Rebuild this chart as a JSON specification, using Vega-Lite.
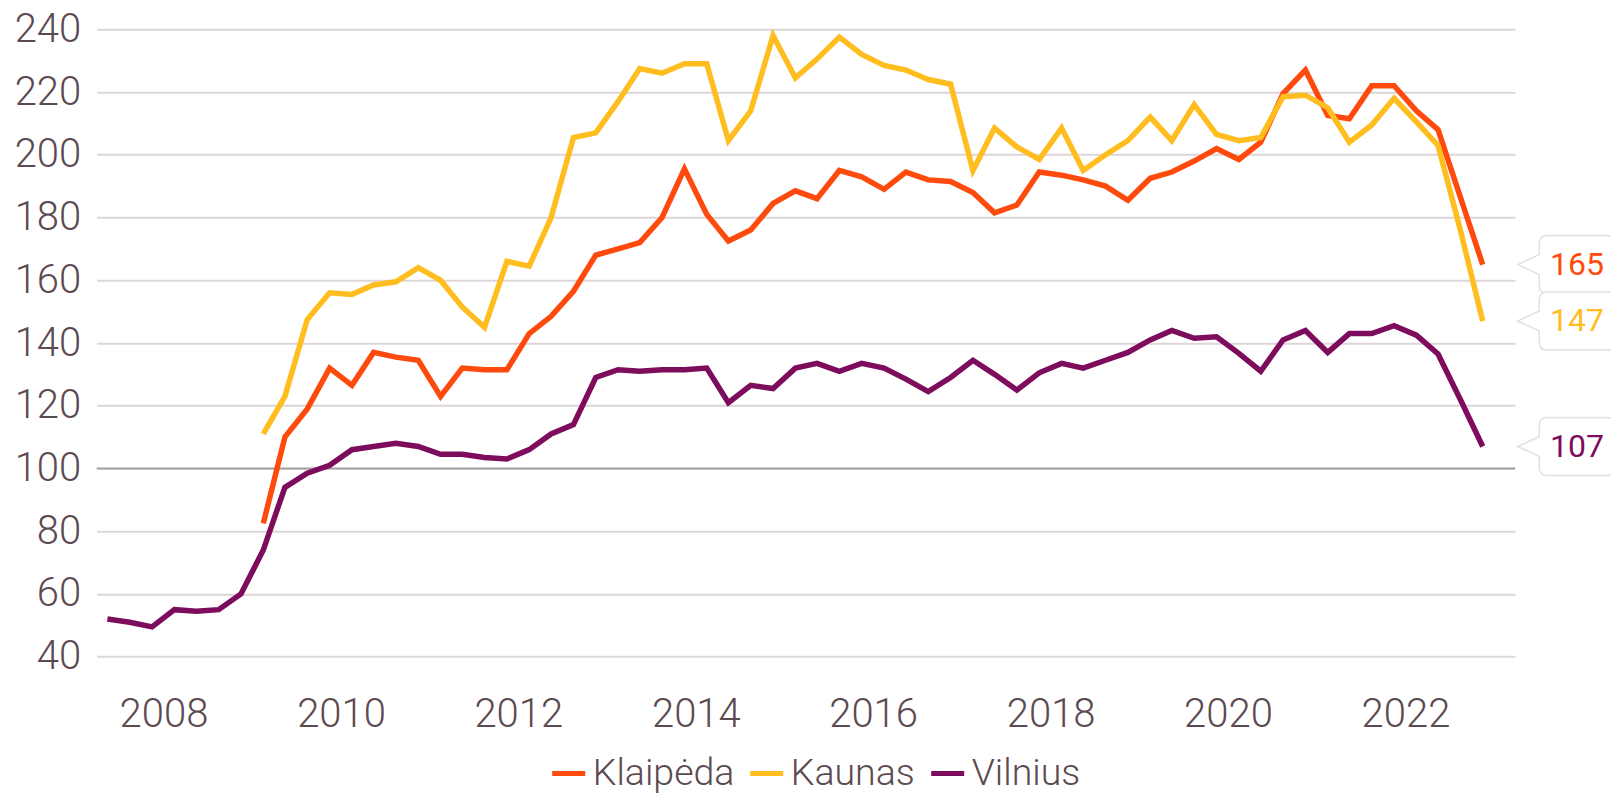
{
  "$schema": "https://vega.github.io/schema/vega-lite/v6.json",
  "width": 1418.3,
  "height": 627.4,
  "autosize": {"type": "none"},
  "padding": {"left": 96.7, "top": 29.3, "right": 96, "bottom": 136.3},
  "background": "white",
  "config": {"view": {"stroke": null}, "font": "Roboto"},
  "datasets": {
    "series": [
      {"date": "2007-05-15", "Klaipėda": null, "Kaunas": null, "Vilnius": 52},
      {"date": "2007-08-15", "Klaipėda": null, "Kaunas": null, "Vilnius": 51},
      {"date": "2007-11-15", "Klaipėda": null, "Kaunas": null, "Vilnius": 49.5},
      {"date": "2008-02-15", "Klaipėda": null, "Kaunas": null, "Vilnius": 55},
      {"date": "2008-05-15", "Klaipėda": null, "Kaunas": null, "Vilnius": 54.5},
      {"date": "2008-08-15", "Klaipėda": null, "Kaunas": null, "Vilnius": 55},
      {"date": "2008-11-15", "Klaipėda": null, "Kaunas": null, "Vilnius": 60},
      {"date": "2009-02-15", "Klaipėda": 82.5, "Kaunas": 111, "Vilnius": 74},
      {"date": "2009-05-15", "Klaipėda": 110, "Kaunas": 123, "Vilnius": 94},
      {"date": "2009-08-15", "Klaipėda": 119, "Kaunas": 147.5, "Vilnius": 98.5},
      {"date": "2009-11-15", "Klaipėda": 132, "Kaunas": 156, "Vilnius": 101},
      {"date": "2010-02-15", "Klaipėda": 126.5, "Kaunas": 155.5, "Vilnius": 106},
      {"date": "2010-05-15", "Klaipėda": 137, "Kaunas": 158.5, "Vilnius": 107},
      {"date": "2010-08-15", "Klaipėda": 135.5, "Kaunas": 159.5, "Vilnius": 108},
      {"date": "2010-11-15", "Klaipėda": 134.5, "Kaunas": 164, "Vilnius": 107},
      {"date": "2011-02-15", "Klaipėda": 123, "Kaunas": 160, "Vilnius": 104.5},
      {"date": "2011-05-15", "Klaipėda": 132, "Kaunas": 151.5, "Vilnius": 104.5},
      {"date": "2011-08-15", "Klaipėda": 131.5, "Kaunas": 145, "Vilnius": 103.5},
      {"date": "2011-11-15", "Klaipėda": 131.5, "Kaunas": 166, "Vilnius": 103},
      {"date": "2012-02-15", "Klaipėda": 143, "Kaunas": 164.5, "Vilnius": 106},
      {"date": "2012-05-15", "Klaipėda": 148.5, "Kaunas": 180, "Vilnius": 111},
      {"date": "2012-08-15", "Klaipėda": 156.5, "Kaunas": 205.5, "Vilnius": 114},
      {"date": "2012-11-15", "Klaipėda": 168, "Kaunas": 207, "Vilnius": 129},
      {"date": "2013-02-15", "Klaipėda": 170, "Kaunas": 217, "Vilnius": 131.5},
      {"date": "2013-05-15", "Klaipėda": 172, "Kaunas": 227.5, "Vilnius": 131},
      {"date": "2013-08-15", "Klaipėda": 180, "Kaunas": 226, "Vilnius": 131.5},
      {"date": "2013-11-15", "Klaipėda": 195.5, "Kaunas": 229, "Vilnius": 131.5},
      {"date": "2014-02-15", "Klaipėda": 181, "Kaunas": 229, "Vilnius": 132},
      {"date": "2014-05-15", "Klaipėda": 172.5, "Kaunas": 204.5, "Vilnius": 121},
      {"date": "2014-08-15", "Klaipėda": 176, "Kaunas": 214, "Vilnius": 126.5},
      {"date": "2014-11-15", "Klaipėda": 184.5, "Kaunas": 238, "Vilnius": 125.5},
      {"date": "2015-02-15", "Klaipėda": 188.5, "Kaunas": 224.5, "Vilnius": 132},
      {"date": "2015-05-15", "Klaipėda": 186, "Kaunas": 230.5, "Vilnius": 133.5},
      {"date": "2015-08-15", "Klaipėda": 195, "Kaunas": 237.5, "Vilnius": 131},
      {"date": "2015-11-15", "Klaipėda": 193, "Kaunas": 232, "Vilnius": 133.5},
      {"date": "2016-02-15", "Klaipėda": 189, "Kaunas": 228.5, "Vilnius": 132},
      {"date": "2016-05-15", "Klaipėda": 194.5, "Kaunas": 227, "Vilnius": 128.5},
      {"date": "2016-08-15", "Klaipėda": 192, "Kaunas": 224, "Vilnius": 124.5},
      {"date": "2016-11-15", "Klaipėda": 191.5, "Kaunas": 222.5, "Vilnius": 129},
      {"date": "2017-02-15", "Klaipėda": 188, "Kaunas": 195, "Vilnius": 134.5},
      {"date": "2017-05-15", "Klaipėda": 181.5, "Kaunas": 208.5, "Vilnius": 130},
      {"date": "2017-08-15", "Klaipėda": 184, "Kaunas": 202.5, "Vilnius": 125},
      {"date": "2017-11-15", "Klaipėda": 194.5, "Kaunas": 198.5, "Vilnius": 130.5},
      {"date": "2018-02-15", "Klaipėda": 193.5, "Kaunas": 208.5, "Vilnius": 133.5},
      {"date": "2018-05-15", "Klaipėda": 192, "Kaunas": 195, "Vilnius": 132},
      {"date": "2018-08-15", "Klaipėda": 190, "Kaunas": 200, "Vilnius": 134.5},
      {"date": "2018-11-15", "Klaipėda": 185.5, "Kaunas": 204.5, "Vilnius": 137},
      {"date": "2019-02-15", "Klaipėda": 192.5, "Kaunas": 212, "Vilnius": 141},
      {"date": "2019-05-15", "Klaipėda": 194.5, "Kaunas": 204.5, "Vilnius": 144},
      {"date": "2019-08-15", "Klaipėda": 198, "Kaunas": 216, "Vilnius": 141.5},
      {"date": "2019-11-15", "Klaipėda": 202, "Kaunas": 206.5, "Vilnius": 142},
      {"date": "2020-02-15", "Klaipėda": 198.5, "Kaunas": 204.5, "Vilnius": 136.7},
      {"date": "2020-05-15", "Klaipėda": 204, "Kaunas": 205.5, "Vilnius": 131},
      {"date": "2020-08-15", "Klaipėda": 219.5, "Kaunas": 218.5, "Vilnius": 141},
      {"date": "2020-11-15", "Klaipėda": 227, "Kaunas": 219, "Vilnius": 144},
      {"date": "2021-02-15", "Klaipėda": 212.5, "Kaunas": 215, "Vilnius": 137},
      {"date": "2021-05-15", "Klaipėda": 211.5, "Kaunas": 204, "Vilnius": 143},
      {"date": "2021-08-15", "Klaipėda": 222, "Kaunas": 209.5, "Vilnius": 143},
      {"date": "2021-11-15", "Klaipėda": 222, "Kaunas": 218, "Vilnius": 145.5},
      {"date": "2022-02-15", "Klaipėda": 214, "Kaunas": 210.5, "Vilnius": 142.5},
      {"date": "2022-05-15", "Klaipėda": 208, "Kaunas": 203, "Vilnius": 136.5},
      {"date": "2022-08-15", "Klaipėda": 186.5, "Kaunas": 176, "Vilnius": 122},
      {"date": "2022-11-15", "Klaipėda": 165, "Kaunas": 147, "Vilnius": 107}
    ],
    "last": [
      {"date": "2022-11-15", "city": "Klaipėda", "v": 165},
      {"date": "2022-11-15", "city": "Kaunas", "v": 147},
      {"date": "2022-11-15", "city": "Vilnius", "v": 107}
    ],
    "ref": [{"v": 100}]
  },
  "layer": [
    {
      "data": {"name": "ref"},
      "mark": {"type": "rule", "color": "#a7a1a3", "strokeWidth": 2},
      "encoding": {"y": {"field": "v", "type": "quantitative"}}
    },
    {
      "data": {"name": "series"},
      "transform": [{"fold": ["Klaipėda", "Kaunas", "Vilnius"], "as": ["city", "v"]}],
      "mark": {"type": "line", "strokeWidth": 5.5},
      "encoding": {
        "x": {
          "field": "date", "type": "temporal",
          "scale": {"type": "utc", "domain": [{"year": 2007, "month": 4, "date": 1, "utc": true}, {"year": 2023, "month": 3, "date": 28, "utc": true}]},
          "axis": {
            "title": null, "grid": false, "domain": false, "ticks": false, "tickSize": 0,
            "values": [{"year": 2008, "utc": true}, {"year": 2010, "utc": true}, {"year": 2012, "utc": true}, {"year": 2014, "utc": true}, {"year": 2016, "utc": true}, {"year": 2018, "utc": true}, {"year": 2020, "utc": true}, {"year": 2022, "utc": true}],
            "format": "%Y", "formatType": "utc",
            "labelFont": "Roboto", "labelFontWeight": 300, "labelFontSize": 40, "labelColor": "#5b4a4f",
            "labelPadding": 38, "labelFlush": false, "labelOverlap": false
          }
        },
        "y": {
          "field": "v", "type": "quantitative",
          "scale": {"domain": [40, 240], "nice": false, "zero": false},
          "axis": {
            "title": null, "domain": false, "ticks": false, "tickSize": 0,
            "values": [40, 60, 80, 100, 120, 140, 160, 180, 200, 220, 240],
            "grid": true, "gridColor": "#ddd5d8", "gridWidth": 2, "gridOpacity": 1,
            "labelFont": "Roboto", "labelFontWeight": 300, "labelFontSize": 40, "labelColor": "#5b4a4f",
            "labelPadding": 16, "labelOverlap": false
          }
        },
        "color": {
          "field": "city", "type": "nominal",
          "scale": {"domain": ["Klaipėda", "Kaunas", "Vilnius"], "range": ["#ff4a0d", "#ffbd1f", "#7d0c5c"]},
          "legend": {
            "title": null, "orient": "none", "direction": "horizontal", "legendX": 453, "legendY": 725,
            "symbolType": "stroke", "symbolSize": 1089, "symbolStrokeWidth": 5,
            "labelFont": "Roboto", "labelFontWeight": 300, "labelFontSize": 37.5, "labelColor": "#5b4a4f",
            "labelOffset": 5, "columnPadding": 5, "padding": 0
          }
        }
      }
    },
    {
      "data": {"name": "last"},
      "mark": {
        "type": "point",
        "shape": "M 3.5 0 L 5.66 -1 L 5.66 -2.1 Q 5.66 -2.9 6.46 -2.9 L 12.5 -2.9 Q 13.3 -2.9 13.3 -2.1 L 13.3 2.1 Q 13.3 2.9 12.5 2.9 L 6.46 2.9 Q 5.66 2.9 5.66 2.1 L 5.66 1 Z",
        "size": 400, "filled": true, "fill": "white", "stroke": "#e4dfe0", "strokeWidth": 1.5, "opacity": 1
      },
      "encoding": {
        "x": {"field": "date", "type": "temporal"},
        "y": {"field": "v", "type": "quantitative"}
      }
    },
    {
      "data": {"name": "last"},
      "mark": {"type": "text", "dx": 94.3, "align": "center", "baseline": "middle", "font": "Roboto", "fontSize": 32},
      "encoding": {
        "x": {"field": "date", "type": "temporal"},
        "y": {"field": "v", "type": "quantitative"},
        "text": {"field": "v", "type": "quantitative", "format": "d"},
        "color": {"field": "city", "type": "nominal"}
      }
    }
  ]
}
